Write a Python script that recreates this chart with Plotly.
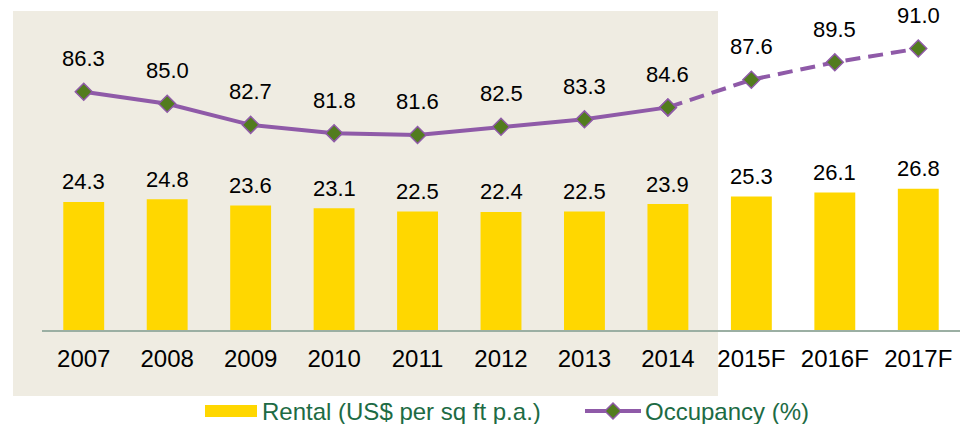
import plotly.graph_objects as go

years = ["2007", "2008", "2009", "2010", "2011", "2012", "2013", "2014", "2015F", "2016F", "2017F"]
rental = [24.3, 24.8, 23.6, 23.1, 22.5, 22.4, 22.5, 23.9, 25.3, 26.1, 26.8]
occupancy = [86.3, 85.0, 82.7, 81.8, 81.6, 82.5, 83.3, 84.6, 87.6, 89.5, 91.0]
n_actual = 8  # 2007-2014 actual, rest forecast

BAR_COLOR = "#FFD700"
LINE_COLOR = "#8F5AA8"
MARKER_COLOR = "#527C1E"
LEGEND_TEXT = "#1D6B44"
SHADE = "#EFECE2"
FONT = "Liberation Sans, Arial, sans-serif"

W, H = 964, 424
ML, MR, MT, MB = 42, 4, 20, 94
PW, PH = W - ML - MR, H - MT - MB


def px(xp):
    return (xp - ML) / PW


def py(yp):
    return (H - MB - yp) / PH


fig = go.Figure()

fig.add_trace(go.Bar(
    x=years, y=rental, marker=dict(color=BAR_COLOR, line=dict(width=0)),
    width=0.49, name="Rental (US$ per sq ft p.a.)", yaxis="y", showlegend=False,
))

marker = dict(symbol="diamond", size=13, color=MARKER_COLOR, line=dict(color=LINE_COLOR, width=1.5))
fig.add_trace(go.Scatter(
    x=years[:n_actual], y=occupancy[:n_actual], mode="lines+markers", yaxis="y2",
    line=dict(color=LINE_COLOR, width=4), marker=marker, cliponaxis=False,
    name="Occupancy (%)", showlegend=False,
))
fig.add_trace(go.Scatter(
    x=years[n_actual - 1:], y=occupancy[n_actual - 1:], mode="lines+markers", yaxis="y2",
    line=dict(color=LINE_COLOR, width=4, dash="15px,8px"), marker=marker, cliponaxis=False,
    showlegend=False,
))

annotations = []
# category positions by index (numeric-looking category names would be read as indices)
for i, v in enumerate(rental):
    annotations.append(dict(x=i, y=v, xref="x", yref="y", text=f"{v:.1f}", showarrow=False,
                            yanchor="middle", yshift=20, font=dict(size=22, color="black", family=FONT)))
for i, v in enumerate(occupancy):
    annotations.append(dict(x=i, y=v, xref="x", yref="y2", text=f"{v:.1f}", showarrow=False,
                            yanchor="middle", yshift=33, font=dict(size=22, color="black", family=FONT)))

# custom legend
leg_yp = 411
annotations.append(dict(x=px(260), y=py(leg_yp), xref="paper", yref="paper", xanchor="left", yanchor="middle",
                        text="Rental (US$ per sq ft p.a.)", showarrow=False,
                        font=dict(size=24, color=LEGEND_TEXT, family=FONT)))
annotations.append(dict(x=px(643), y=py(leg_yp), xref="paper", yref="paper", xanchor="left", yanchor="middle",
                        text="Occupancy (%)", showarrow=False,
                        font=dict(size=24, color=LEGEND_TEXT, family=FONT)))

dcx, dcy, dr = 613, leg_yp, 8
diamond = (f"M{px(dcx)},{py(dcy - dr)} L{px(dcx + dr)},{py(dcy)} "
           f"L{px(dcx)},{py(dcy + dr)} L{px(dcx - dr)},{py(dcy)} Z")

shapes = [
    dict(type="rect", xref="paper", yref="paper", x0=px(13), x1=px(718), y0=py(396), y1=py(11),
         fillcolor=SHADE, line=dict(width=0), layer="below"),
    dict(type="rect", xref="paper", yref="paper", x0=px(205), x1=px(257), y0=py(417), y1=py(405),
         fillcolor=BAR_COLOR, line=dict(width=0)),
    dict(type="line", xref="paper", yref="paper", x0=px(585), x1=px(641), y0=py(leg_yp), y1=py(leg_yp),
         line=dict(color=LINE_COLOR, width=4)),
    dict(type="path", xref="paper", yref="paper", path=diamond,
         fillcolor=MARKER_COLOR, line=dict(color=LINE_COLOR, width=1.5)),
]

fig.update_layout(
    width=W, height=H,
    margin=dict(l=ML, r=MR, t=MT, b=MB, autoexpand=False),
    paper_bgcolor="white", plot_bgcolor="rgba(0,0,0,0)",
    font=dict(family=FONT, color="black"),
    showlegend=False,
    xaxis=dict(type="category", categoryorder="array", categoryarray=years,
               range=[-0.5, len(years) - 0.5],
               showline=True, linecolor="#9BAFA3", linewidth=2,
               showgrid=False, zeroline=False, ticks="", tickfont=dict(size=24, color="black", family=FONT),
               ticklabelstandoff=6, fixedrange=True),
    yaxis=dict(range=[0, 58.8], visible=False, showgrid=False, zeroline=False, fixedrange=True),
    yaxis2=dict(range=[60.4, 94.1], overlaying="y", visible=False, showgrid=False, zeroline=False,
                fixedrange=True),
    annotations=annotations,
    shapes=shapes,
)

fig.write_html("out.html", config={"displayModeBar": False},
               post_script="document.body.style.margin='0';")
